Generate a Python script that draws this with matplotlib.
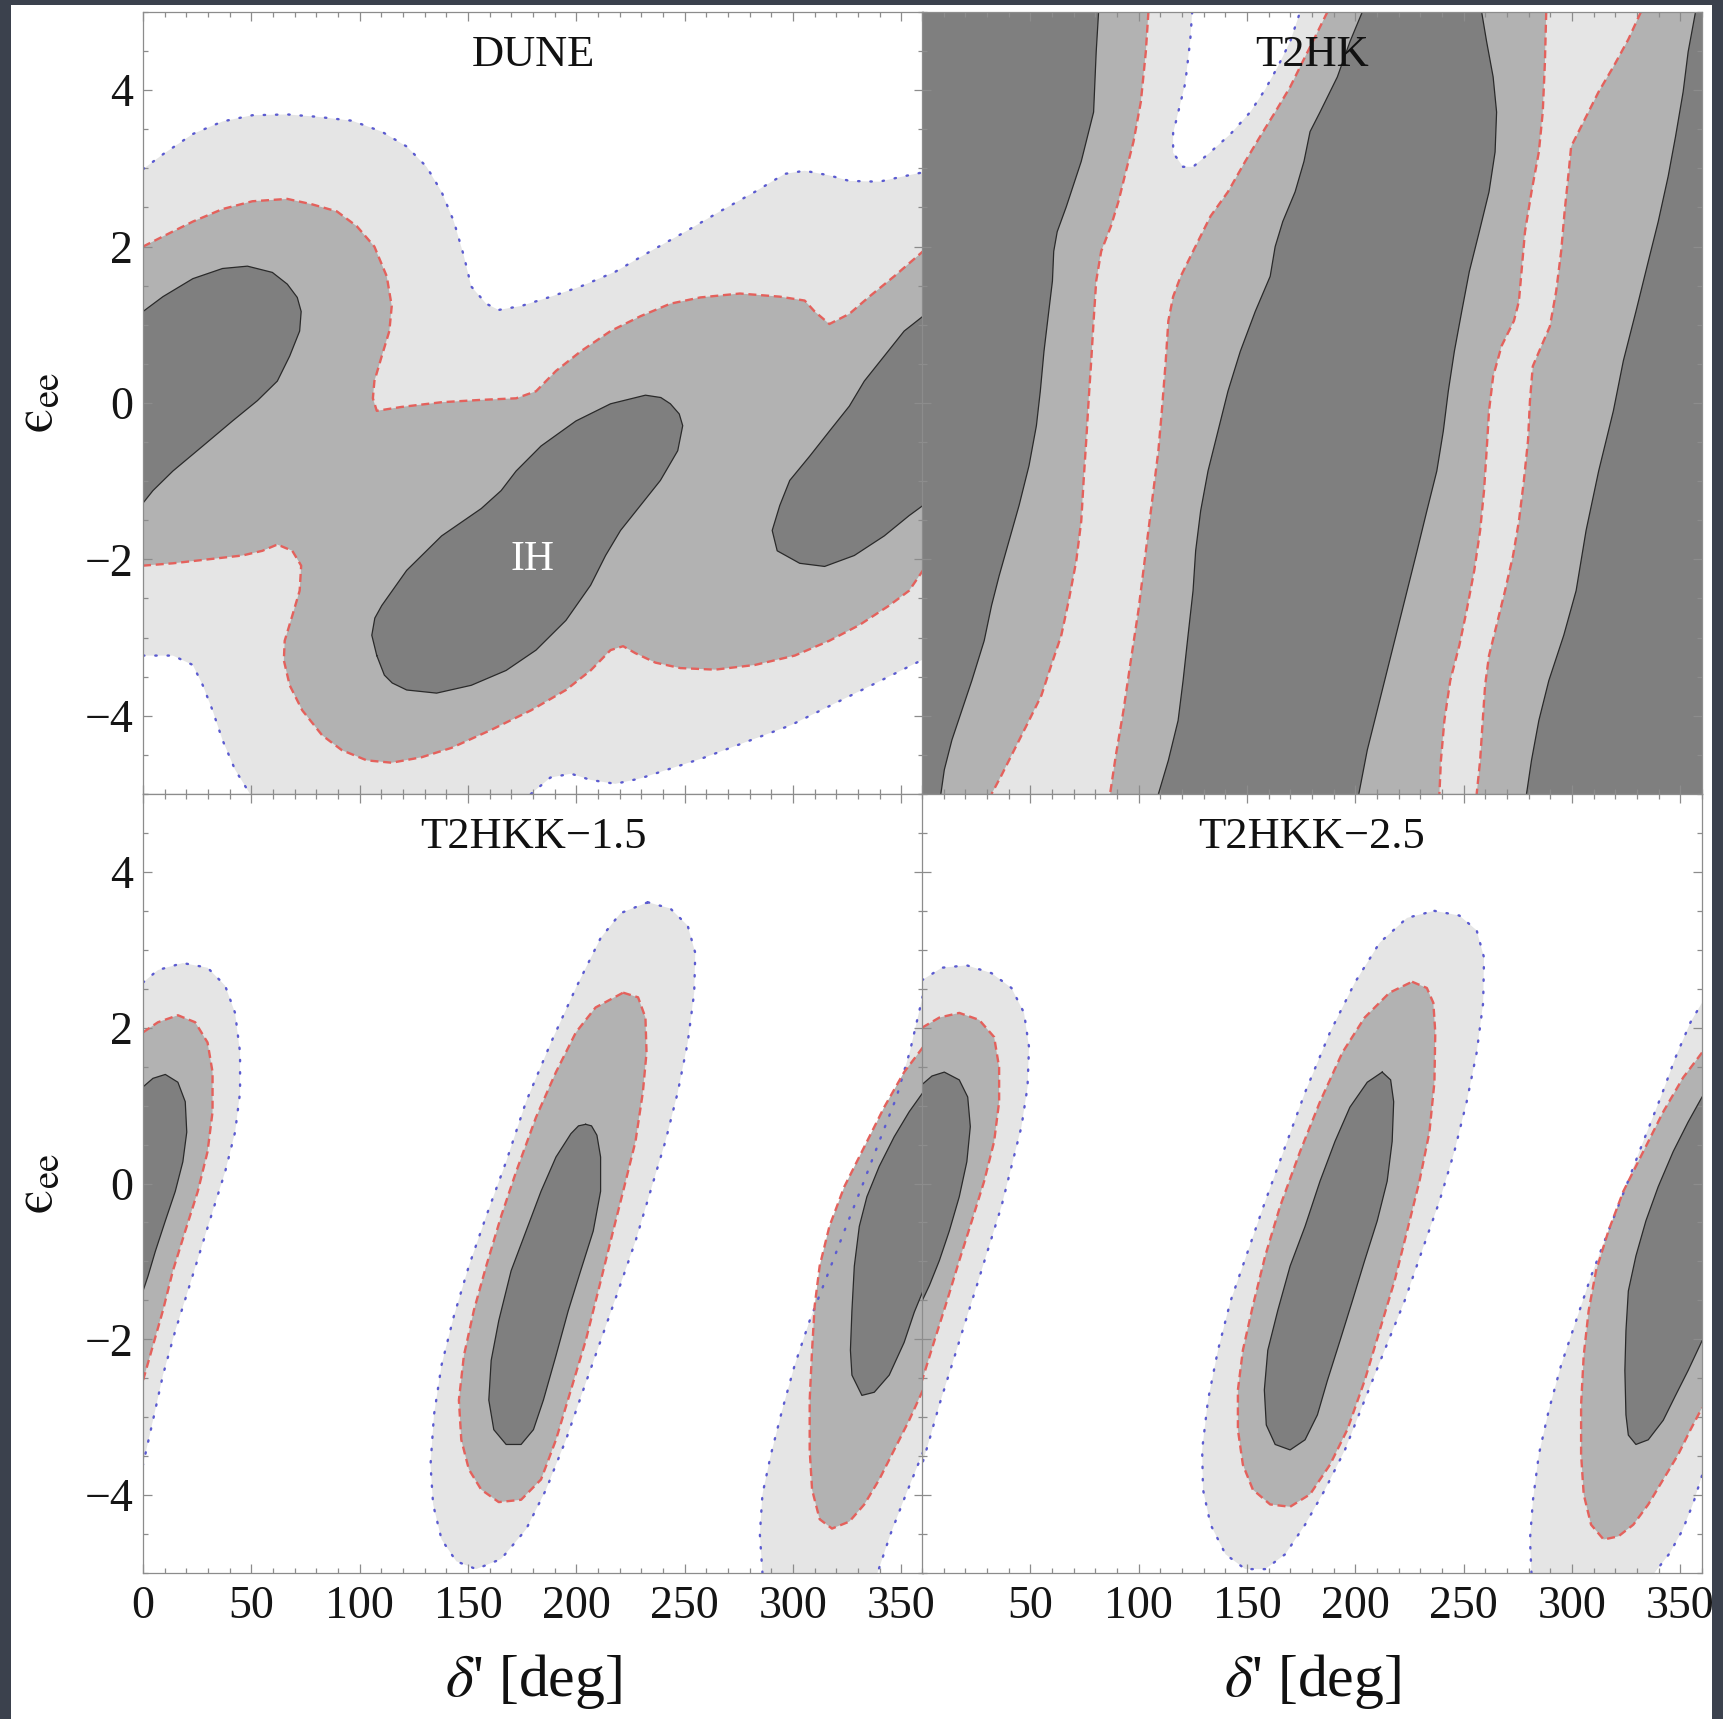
import numpy as np
import matplotlib
matplotlib.use("Agg")
from matplotlib import pyplot as plt
from matplotlib.patches import Rectangle
from matplotlib.ticker import MultipleLocator

plt.rcParams['font.family'] = ['Liberation Serif', 'DejaVu Serif']
plt.rcParams['mathtext.fontset'] = 'stix'

# region colours (1, 2, 3 sigma)
c_dark = '#7f7f7f'
c_mid = '#b2b2b2'
c_light = '#e5e5e5'

titles = ["DUNE", "T2HK", "T2HKK\u22121.5", "T2HKK\u22122.5"]
x_label = r"$\delta$' [deg]"
y_label = "$\\mathrm{\u03f5}_{\\mathrm{ee}}$"

# ---------------- DUNE: (delta', eps_ee) ----------------
dune_white_top = [(0, 2.99), (9.2, 3.18), (23.0, 3.44), (36.7, 3.60), (50.5, 3.68), (66.6, 3.69),
                  (80.4, 3.66), (96.4, 3.61), (110.2, 3.47), (121.7, 3.28), (130.9, 3.02),
                  (137.8, 2.70), (143.5, 2.32), (148.1, 1.88), (151.5, 1.49), (158.4, 1.27),
                  (164.2, 1.19), (174.5, 1.24), (188.3, 1.36), (202.0, 1.49), (218.1, 1.68),
                  (234.2, 1.94), (250.3, 2.19), (266.3, 2.45), (282.4, 2.70), (296.2, 2.93),
                  (305.4, 2.97), (316.8, 2.91), (326.0, 2.84), (339.8, 2.83), (351.3, 2.90),
                  (360, 2.95)]
dune_white_low_left = [(0, -3.23), (13.8, -3.23), (23.0, -3.35), (27.6, -3.61), (32.1, -3.93),
                       (36.7, -4.31), (42.5, -4.69), (49.4, -5.0)]
dune_white_low_right = [(179.0, -5.0), (188.0, -4.79), (197.5, -4.74), (206.6, -4.82),
                        (218.0, -4.87), (229.6, -4.80), (258.5, -4.54), (299.0, -4.12),
                        (339.8, -3.56), (360, -3.28)]
dune_mid_top = [(0, 2.00), (9.2, 2.13), (23.0, 2.32), (36.7, 2.48), (50.5, 2.58), (66.6, 2.61),
                (78.1, 2.54), (89.5, 2.45), (98.7, 2.26), (106.8, 2.00), (112.5, 1.62),
                (114.8, 1.24), (113.7, 0.92), (110.2, 0.60), (106.8, 0.28), (106.1, 0.06),
                (107.9, -0.10), (119.4, -0.05), (137.8, 0.01), (156.1, 0.04), (172.2, 0.06),
                (181.4, 0.15), (190.6, 0.41), (202.0, 0.66), (215.8, 0.92), (229.6, 1.11),
                (243.4, 1.27), (257.2, 1.35), (275.5, 1.40), (293.9, 1.36), (305.4, 1.31),
                (310.0, 1.17), (316.8, 1.01), (326.0, 1.14), (335.2, 1.36), (346.7, 1.62),
                (360, 1.94)]
dune_mid_bot = [(0, -2.08), (13.8, -2.05), (29.8, -2.00), (45.9, -1.95), (55.1, -1.89),
                (62.0, -1.81), (68.9, -1.89), (73.0, -2.08), (72.3, -2.40), (68.9, -2.72),
                (65.4, -3.04), (65.0, -3.29), (67.7, -3.61), (73.5, -3.93), (82.7, -4.25),
                (91.8, -4.44), (103.3, -4.57), (114.8, -4.60), (128.6, -4.53), (142.4, -4.41),
                (160.7, -4.18), (179.1, -3.93), (195.2, -3.67), (206.6, -3.42), (215.8, -3.16),
                (221.6, -3.11), (227.3, -3.20), (236.5, -3.32), (248.0, -3.39), (264.0, -3.41),
                (282.4, -3.35), (300.8, -3.23), (316.8, -3.04), (330.6, -2.84), (344.4, -2.59),
                (353.6, -2.40), (360, -2.14)]
dune_dark_left = [(0, 1.17), (9.2, 1.36), (23.0, 1.59), (36.7, 1.72), (48.2, 1.75), (59.7, 1.67),
                  (66.6, 1.52), (71.2, 1.35), (73.0, 1.17), (72.3, 0.92), (67.7, 0.60),
                  (62.0, 0.28), (52.8, 0.03), (41.3, -0.23), (27.6, -0.55), (13.8, -0.87),
                  (4.6, -1.12), (0, -1.28)]
dune_dark_ih = [(107.9, -3.23), (105.6, -2.97), (107.0, -2.75), (110.2, -2.59), (121.7, -2.14),
                (137.8, -1.70), (156.1, -1.35), (165.3, -1.12), (172.2, -0.87), (183.7, -0.55),
                (199.8, -0.23), (215.8, -0.01), (231.9, 0.10), (239.0, 0.07), (243.4, -0.01),
                (247.5, -0.14), (249.1, -0.29), (246.8, -0.61), (238.8, -0.99), (229.6, -1.31),
                (220.4, -1.63), (213.5, -1.95), (206.6, -2.33), (195.2, -2.78), (181.4, -3.16),
                (167.6, -3.42), (151.5, -3.61), (135.5, -3.71), (121.7, -3.67), (115.0, -3.58),
                (111.4, -3.48)]
dune_dark_right = [(360, 1.11), (351.3, 0.92), (342.1, 0.60), (332.9, 0.28), (326.0, -0.04),
                   (316.8, -0.36), (307.7, -0.68), (298.5, -0.99), (293.9, -1.31), (290.4, -1.63),
                   (292.7, -1.89), (303.1, -2.05), (314.6, -2.09), (328.3, -1.95), (342.1, -1.70),
                   (353.6, -1.44), (360, -1.31)]

# ---------------- T2HK: stripe boundaries from top (eps=5) to bottom (eps=-5) ----------------
t2hk_b1 = [(81.5, 5.00), (80.4, 4.49), (79.2, 3.72), (73.5, 3.09), (66.6, 2.51), (62.4, 2.19),
           (60.8, 1.94), (60.2, 1.56), (58.5, 1.17), (56.3, 0.66), (54.6, 0.15), (52.8, -0.29),
           (49.4, -0.80), (44.8, -1.31), (40.2, -1.76), (35.6, -2.21), (32.1, -2.59),
           (28.7, -3.04), (23.0, -3.55), (18.4, -3.93), (13.8, -4.31), (10.3, -4.69), (8.7, -5.00)]
t2hk_b2 = [(104.5, 5.00), (103.3, 4.49), (101.0, 3.85), (97.6, 3.34), (94.1, 2.96), (90.7, 2.58),
           (87.2, 2.26), (82.7, 1.94), (80.4, 1.56), (79.2, 1.05), (78.1, 0.54), (76.9, 0.03),
           (75.8, -0.48), (74.6, -0.99), (73.5, -1.51), (71.2, -2.02), (67.7, -2.53),
           (64.3, -2.97), (59.7, -3.35), (55.1, -3.74), (49.4, -4.06), (42.5, -4.44),
           (36.7, -4.76), (32.1, -5.00)]
t2hk_b3 = [(187.1, 5.00), (181.4, 4.68), (175.6, 4.36), (169.9, 4.04), (163.0, 3.72), (156.1, 3.41),
           (149.2, 3.09), (141.2, 2.70), (133.2, 2.39), (125.1, 1.94), (119.4, 1.62),
           (115.9, 1.36), (113.7, 1.05), (112.5, 0.54), (110.7, -0.10), (109.1, -0.61),
           (106.8, -1.12), (104.5, -1.63), (102.2, -2.14), (99.9, -2.65), (96.4, -3.29),
           (93.0, -3.93), (89.5, -4.50), (86.8, -5.00)]
t2hk_b4 = [(203.2, 5.00), (197.5, 4.62), (191.7, 4.17), (183.7, 3.72), (179.1, 3.47), (176.3, 3.09),
           (172.2, 2.70), (166.5, 2.32), (163.0, 2.00), (160.7, 1.62), (153.8, 1.17),
           (146.9, 0.66), (141.2, 0.15), (136.6, -0.36), (132.0, -0.87), (128.6, -1.38),
           (126.3, -1.89), (125.1, -2.40), (122.8, -2.97), (120.5, -3.55), (118.2, -4.06),
           (113.7, -4.57), (109.1, -5.00)]
t2hk_b5 = [(258.3, 5.00), (260.6, 4.62), (263.6, 4.17), (265.2, 3.72), (264.5, 3.21), (261.7, 2.70),
           (257.2, 2.19), (252.6, 1.68), (249.1, 1.17), (245.7, 0.66), (242.9, 0.15),
           (240.6, -0.36), (237.6, -0.87), (233.0, -1.38), (228.5, -1.89), (223.9, -2.40),
           (219.3, -2.91), (214.7, -3.42), (210.1, -3.93), (205.5, -4.44), (201.6, -5.00)]
t2hk_b6 = [(288.1, 5.00), (287.5, 4.36), (286.5, 3.72), (284.7, 3.21), (281.3, 2.70), (278.3, 2.19),
           (276.7, 1.68), (275.5, 1.30), (273.2, 1.05), (267.5, 0.73), (263.6, 0.34),
           (261.7, -0.10), (260.6, -0.61), (259.4, -1.12), (257.6, -1.63), (254.9, -2.14),
           (251.4, -2.65), (248.0, -3.10), (243.8, -3.55), (241.1, -4.06), (239.5, -4.57),
           (238.8, -5.00)]
t2hk_b7 = [(331.8, 5.00), (326.0, 4.65), (319.1, 4.30), (312.3, 3.98), (305.4, 3.60), (299.6, 3.28),
           (298.5, 2.96), (296.6, 2.45), (295.0, 1.94), (292.7, 1.43), (289.8, 0.98),
           (285.9, 0.73), (281.9, 0.47), (280.6, 0.03), (279.7, -0.48), (277.8, -0.99),
           (275.5, -1.51), (272.8, -1.95), (269.1, -2.40), (265.2, -2.84), (261.7, -3.23),
           (259.9, -3.61), (258.8, -4.06), (257.6, -4.57), (256.0, -5.00)]
t2hk_b8 = [(357.0, 5.00), (353.6, 4.49), (351.3, 3.98), (347.8, 3.41), (344.4, 2.90), (339.8, 2.32),
           (335.2, 1.81), (329.5, 1.17), (323.7, 0.54), (319.1, -0.10), (312.3, -0.87),
           (306.5, -1.63), (301.9, -2.40), (296.2, -2.97), (289.3, -3.55), (284.7, -4.06),
           (281.3, -4.57), (279.0, -5.00)]
t2hk_white = [(124.7, 5.0), (123.8, 4.64), (121.5, 4.09), (115.9, 3.45), (115.9, 3.20), (120.5, 3.02),
              (125.1, 3.02), (133.2, 3.21), (142.4, 3.44), (151.5, 3.72), (158.4, 4.01),
              (164.2, 4.30), (169.9, 4.62), (174.5, 5.0)]

# ---------------- T2HKK-1.5 ----------------
k15_left_outer = [(0, 2.58), (6.9, 2.74), (18.4, 2.83), (29.8, 2.77), (37.9, 2.54), (42.5, 2.19),
                  (44.8, 1.68), (44.8, 1.17), (42.5, 0.66), (37.9, 0.15), (32.1, -0.36),
                  (26.4, -0.87), (20.7, -1.38), (14.9, -1.89), (9.2, -2.46), (4.6, -3.04), (0, -3.61)]
k15_left_mid = [(0, 1.94), (6.9, 2.07), (16.1, 2.16), (24.1, 2.07), (29.8, 1.81), (32.1, 1.43),
                (32.1, 0.92), (29.8, 0.41), (25.3, -0.10), (19.5, -0.61), (13.8, -1.12),
                (9.2, -1.63), (4.6, -2.08), (0, -2.53)]
k15_left_dark = [(0, 1.24), (4.6, 1.35), (10.3, 1.40), (16.1, 1.30), (19.5, 1.05), (20.2, 0.66),
                 (18.4, 0.28), (14.9, -0.10), (10.3, -0.48), (5.7, -0.87), (2.3, -1.19), (0, -1.38)]
k15_mid_outer = [(233.0, 3.61), (243.4, 3.53), (251.4, 3.31), (254.9, 2.96), (254.4, 2.45),
                 (251.4, 1.81), (246.8, 1.17), (241.1, 0.54), (234.2, -0.10), (227.3, -0.74),
                 (219.3, -1.38), (211.2, -2.02), (203.2, -2.65), (195.2, -3.29), (186.0, -3.93),
                 (176.8, -4.44), (165.3, -4.82), (153.8, -4.95), (144.6, -4.85), (137.8, -4.57),
                 (133.9, -4.12), (132.7, -3.61), (134.3, -2.97), (137.8, -2.33), (143.5, -1.70),
                 (150.4, -1.06), (158.4, -0.42), (167.6, 0.28), (176.8, 1.05), (188.3, 1.81),
                 (199.8, 2.51), (211.2, 3.15), (220.4, 3.47)]
k15_mid_mid = [(221.6, 2.45), (228.5, 2.39), (231.9, 2.13), (232.4, 1.68), (230.7, 1.17),
               (227.3, 0.54), (221.6, -0.10), (215.8, -0.74), (210.1, -1.38), (204.3, -2.02),
               (197.5, -2.65), (190.6, -3.29), (183.7, -3.80), (174.5, -4.06), (164.2, -4.09),
               (156.1, -3.93), (150.4, -3.67), (146.9, -3.29), (145.8, -2.78), (148.1, -2.21),
               (152.7, -1.63), (158.4, -1.06), (165.3, -0.42), (172.2, 0.15), (181.4, 0.85),
               (190.6, 1.43), (199.8, 1.94), (208.9, 2.26)]
k15_mid_dark = [(204.3, 0.76), (207.0, 0.74), (209.5, 0.62), (211.2, 0.34), (211.2, -0.10),
                (207.8, -0.61), (202.0, -1.12), (196.3, -1.63), (190.6, -2.21), (184.8, -2.78),
                (180.2, -3.16), (174.5, -3.35), (167.6, -3.35), (161.9, -3.16), (159.6, -2.78),
                (160.7, -2.27), (164.2, -1.76), (169.9, -1.12), (176.8, -0.61), (183.7, -0.10),
                (190.6, 0.34), (197.5, 0.64), (201.0, 0.74)]
k15_right_outer_a = [(285.9, -5.0), (284.7, -4.50), (285.9, -3.99), (289.8, -3.48), (295.0, -2.91),
                     (300.8, -2.33), (307.7, -1.76), (315.7, -1.19), (323.7, -0.61), (331.8, -0.04),
                     (339.8, 0.54), (347.8, 1.11), (354.0, 1.70), (360, 2.42)]
k15_right_outer_b = [(360, -3.45), (352.0, -4.0), (345.0, -4.5), (339.0, -5.0)]
k15_right_mid = [(360, 1.75), (351.3, 1.43), (342.1, 0.98), (332.9, 0.47), (323.7, -0.04),
                 (316.8, -0.55), (312.3, -1.06), (310.0, -1.57), (308.8, -2.14), (307.7, -2.78),
                 (307.7, -3.42), (308.8, -3.93), (312.3, -4.31), (318.0, -4.43), (326.0, -4.34),
                 (332.9, -4.12), (339.8, -3.80), (346.7, -3.42), (353.6, -3.04), (360, -2.65)]
k15_right_dark = [(360, 1.17), (353.6, 0.92), (346.7, 0.60), (339.8, 0.22), (334.1, -0.17),
                  (330.6, -0.55), (328.3, -1.06), (327.2, -1.63), (326.5, -2.14), (327.2, -2.46),
                  (331.8, -2.72), (337.5, -2.68), (344.4, -2.46), (351.3, -2.04), (356.0, -1.65),
                  (360, -1.38)]

# ---------------- T2HKK-2.5 ----------------
k25_left_outer = [(0, 2.61), (9.2, 2.77), (20.7, 2.80), (32.1, 2.70), (41.3, 2.51), (47.1, 2.19),
                  (49.4, 1.75), (48.7, 1.24), (45.9, 0.73), (41.3, 0.22), (36.7, -0.29),
                  (31.0, -0.80), (25.3, -1.31), (19.5, -1.82), (13.8, -2.33), (8.0, -2.84),
                  (3.4, -3.29), (0, -3.61)]
k25_left_mid = [(0, 2.00), (8.0, 2.13), (17.2, 2.19), (26.4, 2.10), (33.3, 1.88), (35.6, 1.49),
                (35.6, 1.05), (33.3, 0.54), (28.7, 0.03), (23.0, -0.48), (17.2, -0.99),
                (11.5, -1.51), (5.7, -2.02), (0, -2.53)]
k25_left_dark = [(0, 1.27), (4.6, 1.38), (10.3, 1.43), (17.2, 1.33), (21.1, 1.11), (22.3, 0.73),
                 (20.7, 0.28), (17.2, -0.17), (12.6, -0.61), (8.0, -0.99), (3.4, -1.31), (0, -1.51)]
k25_mid_outer = [(236.5, 3.50), (248.0, 3.44), (256.0, 3.25), (259.4, 2.90), (259.0, 2.32),
                 (256.0, 1.68), (251.4, 1.05), (245.7, 0.41), (238.8, -0.23), (230.7, -0.87),
                 (222.7, -1.51), (213.5, -2.14), (204.3, -2.78), (195.2, -3.42), (186.0, -3.93),
                 (176.8, -4.38), (167.6, -4.76), (158.4, -4.95), (149.2, -4.95), (140.1, -4.76),
                 (133.2, -4.38), (129.7, -3.93), (129.3, -3.42), (132.0, -2.78), (136.6, -2.14),
                 (142.4, -1.51), (150.4, -0.87), (158.4, -0.23), (167.6, 0.47), (176.8, 1.17),
                 (188.3, 1.94), (199.8, 2.58), (211.2, 3.09), (223.9, 3.41)]
k25_mid_mid = [(226.2, 2.59), (233.0, 2.51), (236.0, 2.32), (236.9, 1.94), (236.5, 1.30),
               (234.2, 0.66), (229.6, 0.03), (223.9, -0.61), (218.1, -1.25), (211.2, -1.89),
               (204.3, -2.53), (196.3, -3.16), (188.3, -3.61), (179.1, -3.99), (169.9, -4.15),
               (160.7, -4.12), (152.7, -3.93), (148.1, -3.61), (145.8, -3.16), (145.8, -2.65),
               (148.1, -2.14), (152.7, -1.57), (158.4, -0.93), (165.3, -0.29), (174.5, 0.41),
               (183.7, 1.05), (194.0, 1.68), (204.3, 2.13), (215.8, 2.45)]
k25_mid_dark = [(212.4, 1.43), (216.3, 1.33), (217.7, 1.05), (217.0, 0.54), (214.7, 0.03),
                (210.1, -0.48), (204.3, -0.99), (198.6, -1.51), (192.9, -2.02), (187.1, -2.53),
                (182.5, -2.97), (176.8, -3.29), (169.9, -3.42), (163.0, -3.35), (158.9, -3.10),
                (158.0, -2.65), (159.6, -2.14), (164.2, -1.63), (169.9, -1.06), (176.8, -0.55),
                (183.7, 0.03), (190.6, 0.54), (197.5, 0.98), (205.5, 1.30)]
k25_right_outer_a = [(281.3, -5.0), (280.6, -4.57), (282.0, -4.06), (284.7, -3.48), (289.3, -2.91),
                     (295.0, -2.33), (301.9, -1.76), (308.8, -1.19), (316.8, -0.61), (324.9, -0.04),
                     (332.9, 0.54), (341.0, 1.11), (347.8, 1.62), (354.7, 2.07), (360, 2.32)]
k25_right_outer_b = [(360, -3.75), (356.0, -4.1), (351.0, -4.45), (345.0, -4.75), (338.0, -5.0)]
k25_right_mid = [(360, 1.68), (351.3, 1.36), (342.1, 0.92), (332.9, 0.41), (323.7, -0.10),
                 (316.8, -0.61), (311.1, -1.12), (307.7, -1.63), (305.4, -2.21), (304.2, -2.84),
                 (304.2, -3.48), (305.4, -3.99), (308.8, -4.38), (314.6, -4.57), (321.4, -4.53),
                 (328.3, -4.38), (335.2, -4.12), (342.1, -3.80), (349.0, -3.48), (354.7, -3.16),
                 (360, -2.88)]
k25_right_dark = [(360, 1.11), (353.6, 0.79), (346.7, 0.41), (339.8, -0.04), (334.1, -0.48),
                  (329.5, -0.93), (326.0, -1.38), (324.9, -1.89), (324.4, -2.40), (324.9, -2.97),
                  (326.0, -3.23), (329.5, -3.35), (335.2, -3.29), (342.1, -3.04), (347.8, -2.72),
                  (353.6, -2.40), (360, -2.02)]

styles = {
    'solid': dict(color='#2a2a2a', lw=0.9, ls='-'),
    'dashed': dict(color='#e4615c', lw=1.7, ls=(0, (3.4, 2.0))),
    'dotted': dict(color='#5b5bd0', lw=1.7, ls=(0, (0.6, 4.6)), dash_capstyle='round'),
}


def xy(pts):
    a = np.array(pts, dtype=float)
    return a[:, 0], a[:, 1]


def region(ax, pts, color):
    x, y = xy(pts)
    ax.fill(x, y, color=color, lw=0)


def band(ax, left, right, color):
    x1, y1 = xy(left)
    x2, y2 = xy(right)
    ax.fill(np.r_[x1, x2[::-1]], np.r_[y1, y2[::-1]], color=color, lw=0)


def edge(ax, pts, kind, closed=False):
    x, y = xy(pts)
    if closed:
        x = np.r_[x, x[:1]]
        y = np.r_[y, y[:1]]
    ax.plot(x, y, **styles[kind])


fig = plt.figure(figsize=(17.23, 17.19), dpi=100, facecolor='#3b414d')
fig.add_artist(Rectangle((11 / 1723, 0), 1701 / 1723, 1714 / 1719, transform=fig.transFigure,
                         facecolor='white', edgecolor='none', zorder=-5))

lx, rx, pw = 143 / 1723, 922 / 1723, 780 / 1723
ax_dune = fig.add_axes([lx, 1 - 794 / 1719, pw, 782 / 1719])
ax_t2hk = fig.add_axes([rx, 1 - 794 / 1719, pw, 782 / 1719])
ax_k15 = fig.add_axes([lx, 1 - 1573 / 1719, pw, 779 / 1719])
ax_k25 = fig.add_axes([rx, 1 - 1573 / 1719, pw, 779 / 1719])

# ---- DUNE ----
ax = ax_dune
ax.set_facecolor(c_light)
region(ax, dune_white_top + [(360, 5), (0, 5)], 'white')
region(ax, dune_white_low_left + [(0, -5)], 'white')
region(ax, dune_white_low_right + [(360, -5)], 'white')
band(ax, dune_mid_top, dune_mid_bot, c_mid)
region(ax, dune_dark_left, c_dark)
region(ax, dune_dark_ih, c_dark)
region(ax, dune_dark_right, c_dark)
for c in (dune_white_top, dune_white_low_left, dune_white_low_right):
    edge(ax, c, 'dotted')
edge(ax, dune_mid_top, 'dashed')
edge(ax, dune_mid_bot, 'dashed')
edge(ax, dune_dark_left, 'solid')
edge(ax, dune_dark_ih, 'solid', closed=True)
edge(ax, dune_dark_right, 'solid')
ax.text(180, -2.0, "IH", color='white', fontsize=30, ha='center', va='center')

# ---- T2HK ----
ax = ax_t2hk
ax.set_facecolor(c_dark)
band(ax, t2hk_b1, t2hk_b4, c_mid)
band(ax, t2hk_b2, t2hk_b3, c_light)
band(ax, t2hk_b5, t2hk_b8, c_mid)
band(ax, t2hk_b6, t2hk_b7, c_light)
region(ax, t2hk_white, 'white')
for c in (t2hk_b1, t2hk_b4, t2hk_b5, t2hk_b8):
    edge(ax, c, 'solid')
for c in (t2hk_b2, t2hk_b3, t2hk_b6, t2hk_b7):
    edge(ax, c, 'dashed')
edge(ax, t2hk_white, 'dotted')

# ---- T2HKK ----
blobs = [
    (ax_k15, k15_left_outer, k15_left_mid, k15_left_dark, k15_mid_outer, k15_mid_mid, k15_mid_dark,
     k15_right_outer_a, k15_right_outer_b, k15_right_mid, k15_right_dark),
    (ax_k25, k25_left_outer, k25_left_mid, k25_left_dark, k25_mid_outer, k25_mid_mid, k25_mid_dark,
     k25_right_outer_a, k25_right_outer_b, k25_right_mid, k25_right_dark),
]
for (ax, lo, lm, ld, mo, mm, md, roa, rob, rm, rd) in blobs:
    ax.set_facecolor('white')
    region(ax, lo, c_light)
    region(ax, mo, c_light)
    region(ax, roa + rob, c_light)
    region(ax, lm, c_mid)
    region(ax, mm, c_mid)
    region(ax, rm, c_mid)
    region(ax, ld, c_dark)
    region(ax, md, c_dark)
    region(ax, rd, c_dark)
    for c in (lo, roa, rob):
        edge(ax, c, 'dotted')
    edge(ax, mo, 'dotted', closed=True)
    edge(ax, lm, 'dashed')
    edge(ax, rm, 'dashed')
    edge(ax, mm, 'dashed', closed=True)
    edge(ax, ld, 'solid')
    edge(ax, rd, 'solid')
    edge(ax, md, 'solid', closed=True)

# ---- axes cosmetics ----
for i, ax in enumerate((ax_dune, ax_t2hk, ax_k15, ax_k25)):
    ax.set_xlim(0, 360)
    ax.set_ylim(-5, 5)
    ax.xaxis.set_major_locator(MultipleLocator(50))
    ax.xaxis.set_minor_locator(MultipleLocator(10))
    ax.yaxis.set_major_locator(MultipleLocator(2))
    ax.yaxis.set_minor_locator(MultipleLocator(0.5))
    ax.tick_params(which='both', direction='in', top=True, right=True,
                   color='#8c8c8c', width=0.9, labelsize=33, labelcolor='#151515')
    ax.tick_params(which='major', length=6.5)
    ax.tick_params(which='minor', length=3.5)
    ax.tick_params(axis='x', pad=9)
    ax.tick_params(axis='y', pad=7)
    for s in ax.spines.values():
        s.set_color('#8c8c8c')
        s.set_linewidth(0.9)
    ax.text(0.5, 0.945, titles[i], transform=ax.transAxes, ha='center', va='center',
            fontsize=32, color='#111111')

ax_k25.set_xticks(np.arange(50, 351, 50))
for ax in (ax_dune, ax_t2hk):
    ax.tick_params(labelbottom=False)
for ax in (ax_t2hk, ax_k25):
    ax.tick_params(labelleft=False)

for ax in (ax_k15, ax_k25):
    ax.set_xlabel(x_label, fontsize=43, color='#111111')
    ax.xaxis.label.set_va('center')
    ax.xaxis.set_label_coords(0.5, -0.139)
for ax in (ax_dune, ax_k15):
    ax.set_ylabel(y_label, fontsize=40, color='#111111')
    ax.yaxis.label.set_va('center')
    ax.yaxis.set_label_coords(-0.135, 0.5)

fig.savefig("out.png", dpi=100, facecolor=fig.get_facecolor())
